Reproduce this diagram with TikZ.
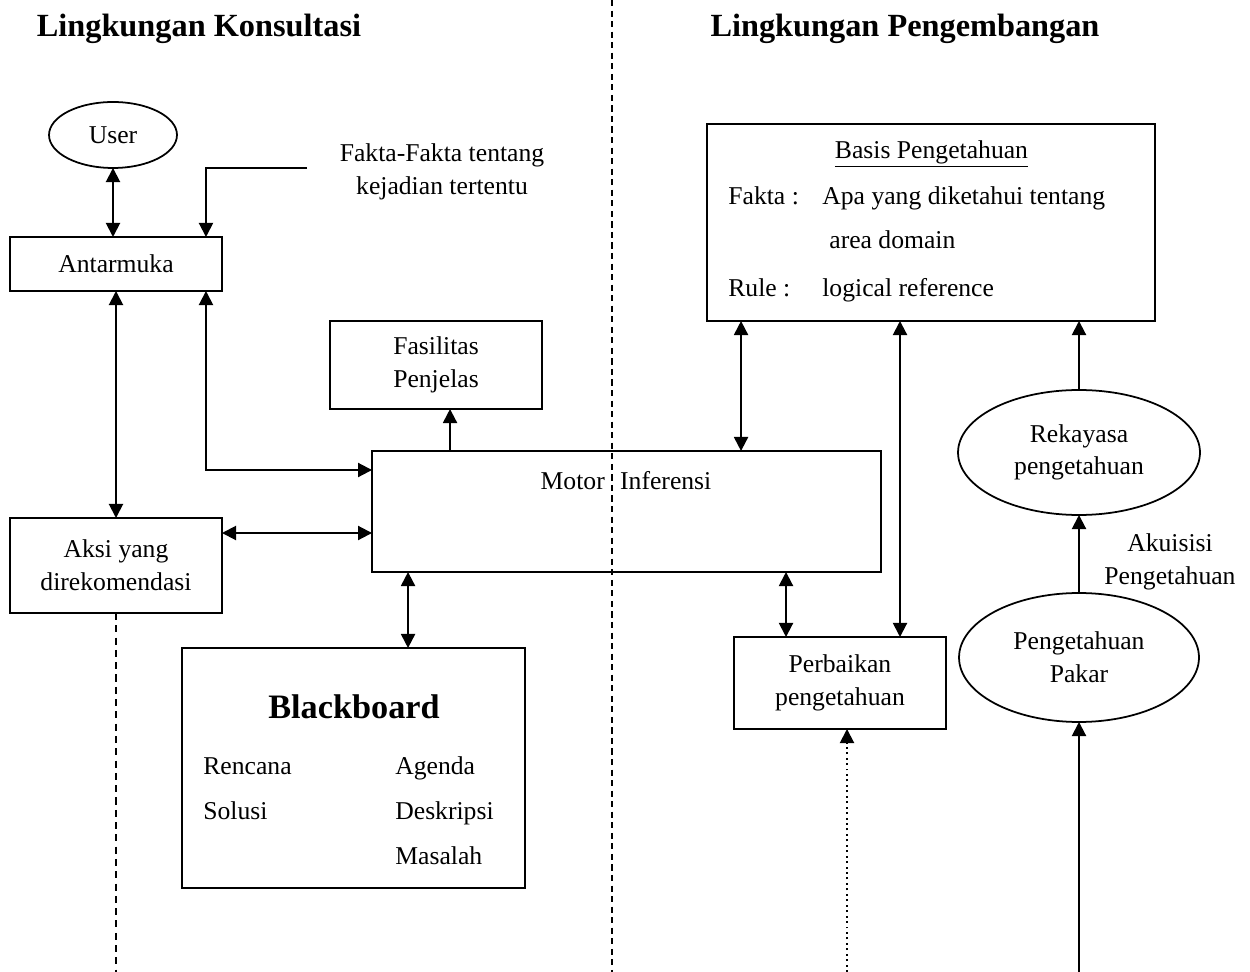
\documentclass[tikz,border=0pt]{standalone}
\usepackage{fontspec}
\setmainfont{Liberation Serif}
\usetikzlibrary{shapes.geometric,arrows.meta}
\begin{document}
\begin{tikzpicture}[x=0.02cm,y=-0.02cm,
  every node/.style={font=\fontsize{14.6}{18.6}\selectfont},
  box/.style={draw,line width=1pt,rectangle,inner sep=0pt,outer sep=0pt,align=center},
  oval/.style={draw,line width=1pt,ellipse,inner sep=0pt,outer sep=0pt,align=center},
  txt/.style={inner sep=0pt,anchor=mid west},
  conn/.style={line width=1.1pt},
  arr/.style={conn,-{Triangle[length=8pt,width=8pt]}},
  dbl/.style={conn,{Triangle[length=8pt,width=8pt]}-{Triangle[length=8pt,width=8pt]}},
  title/.style={font=\fontsize{18.4}{22}\selectfont\bfseries,inner sep=0pt},
  divider/.style={line width=0.9pt,dash pattern=on 3.5pt off 2.5pt},
  sidedash/.style={line width=0.9pt,dash pattern=on 4pt off 3pt}
]
\useasboundingbox (0,0) rectangle (1250,972);

% titles
\node[title] (t1) at (199,29) {Lingkungan Konsultasi};
\node[title] (t2) at (905,29) {Lingkungan Pengembangan};

% divider
\coordinate (ct) at (612,0);
\coordinate (cb) at (612,972);
\draw[divider] (ct) -- (cb);

% left side
\node[oval,minimum width=2.56cm,minimum height=1.32cm] (user) at (113,135) {User};
\node[box,minimum width=4.24cm,minimum height=1.08cm] (antar) at (116,264) {Antarmuka};
\node[align=center,inner sep=0pt] (fakta) at (442,172) {Fakta-Fakta tentang\\kejadian tertentu};
\coordinate (fk) at (307,168);
\node[box,minimum width=4.24cm,minimum height=1.76cm] (fas) at (436,365) {Fasilitas\\Penjelas};
\node[box,minimum width=10.18cm,minimum height=2.42cm] (motor) at (626.5,511.5) {};
\node[inner sep=0pt] (motortxt) at (626,481) {Motor\hspace{0.6em}Inferensi};
\node[box,minimum width=4.24cm,minimum height=1.9cm] (aksi) at (116,565.5) {Aksi yang\\direkomendasi};
\node[box,minimum width=6.86cm,minimum height=4.8cm] (bb) at (353.5,768) {};
\node[inner sep=0pt,font=\fontsize{19.5}{23}\selectfont\bfseries] (bbt) at (354,707) {Blackboard};
\node[txt] (ren) at (203,770) {Rencana};
\node[txt] (sol) at (203,815) {Solusi};
\node[txt] (age) at (395,770) {Agenda};
\node[txt] (des) at (395,815) {Deskripsi};
\node[txt] (mas) at (395,860) {Masalah};

% right side
\node[box,minimum width=8.96cm,minimum height=3.94cm] (basis) at (931,222.5) {};
\node[inner sep=0pt] (bpt) at (931.5,154) {\underline{Basis Pengetahuan}};
\node[txt] (fkl) at (728,200) {Fakta :};
\node[txt] (fkv) at (822,200) {Apa yang diketahui tentang};
\node[txt] (fkv2) at (829,244) {area domain};
\node[txt] (rul) at (728,292) {Rule :};
\node[txt] (rulv) at (822,292) {logical reference};
\node[box,minimum width=4.24cm,minimum height=1.84cm] (perb) at (840,683) {Perbaikan\\pengetahuan};
\node[oval,minimum width=4.84cm,minimum height=2.5cm] (rek) at (1079,452.5) {Rekayasa\\pengetahuan};
\node[oval,minimum width=4.8cm,minimum height=2.58cm] (pakar) at (1079,657.5) {Pengetahuan\\Pakar};
\node[align=center,inner sep=0pt] (akui) at (1170,562) {Akuisisi\\Pengetahuan};

% connectors left
\draw[dbl] (user) -- (user |- antar.north);
\draw[arr] (fk) -| ([xshift=1.8cm]antar.north);
\draw[dbl] (antar.south) -- (aksi.north);
\draw[dbl] ([xshift=1.8cm]antar.south) |- ([yshift=-0.38cm]motor.north west);
\draw[dbl] ([yshift=0.65cm]aksi.east) -- ([yshift=0.65cm]aksi.east -| motor.west);
\draw[arr] ([xshift=-3.53cm]motor.north) -- ([xshift=-3.53cm]motor.north |- fas.south);
\draw[dbl] ([xshift=-4.37cm]motor.south) -- ([xshift=-4.37cm]motor.south |- bb.north);
\coordinate (ab) at (116,972);
\draw[sidedash] (aksi.south) -- (ab);

% connectors right
\draw[dbl] ([xshift=-3.8cm]basis.south) -- ([xshift=-3.8cm]basis.south |- motor.north);
\draw[dbl] ([xshift=-0.62cm]basis.south) -- ([xshift=-0.62cm]basis.south |- perb.north);
\draw[dbl] ([xshift=-1.08cm]perb.north) -- ([xshift=-1.08cm]perb.north |- motor.south);
\draw[arr] (rek.north) -- (rek.north |- basis.south);
\draw[arr] (pakar.north) -- (rek.south);
\coordinate (pb) at (1079,972);
\draw[arr] (pb) -- (pakar.south);
\coordinate (db) at (847,972);
\draw[arr,dotted] (db) -- (db |- perb.south);
\end{tikzpicture}
\end{document}
